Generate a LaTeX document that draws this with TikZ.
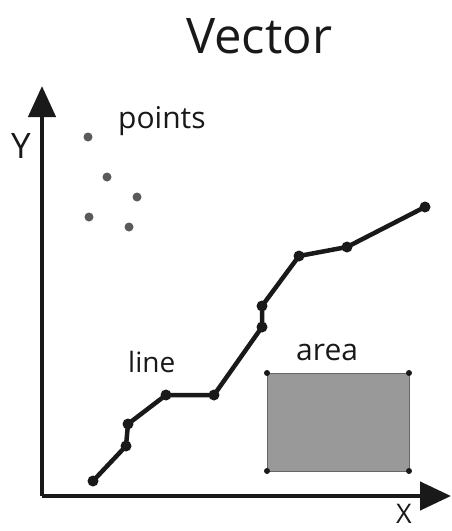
\documentclass[tikz,border=0pt]{standalone}
\usepackage{fontspec}
\setmainfont{Open Sans}
\usetikzlibrary{arrows.meta}
\definecolor{ptgray}{HTML}{5A5A5A}
\definecolor{areagray}{HTML}{999999}
\tikzset{
  lbl/.style={inner sep=0pt, anchor=base west, text=black!90},
  pt/.style={circle, fill=ptgray, inner sep=0pt, minimum size=9pt},
  vtx/.style={circle, fill=black!90, inner sep=0pt, minimum size=11pt},
  corner/.style={circle, fill=black!90, inner sep=0pt, minimum size=6pt},
  axis/.style={line width=4.5pt, black!90, line join=miter},
  poly/.style={line width=4.5pt, black!90, line join=round}
}
\begin{document}
\begin{tikzpicture}[x=1pt,y=-1pt]
\useasboundingbox (0,0) rectangle (452,531);
% title
\node[lbl, font=\fontsize{49}{55}\selectfont] (title) at (186,53) {Vector};
% axes
\coordinate (origin) at (42,496);
\coordinate (ytip) at (42,86);
\coordinate (xtip) at (451,496);
\draw[axis, -{Triangle[length=31pt,width=27pt]}] (origin) -- (ytip);
\draw[axis, -{Triangle[length=31pt,width=28pt]}] (origin) -- (xtip);
\node[lbl, font=\fontsize{35}{40}\selectfont] (ylab) at (11,158) {Y};
\node[lbl, font=\fontsize{27}{31}\selectfont] (xlab) at (396,523) {X};
% points
\node[lbl, font=\fontsize{30}{34}\selectfont] (ptlab) at (118,128) {points};
\node[pt] (p1) at (88,137) {};
\node[pt] (p2) at (107,177) {};
\node[pt] (p3) at (137,197) {};
\node[pt] (p4) at (89,217) {};
\node[pt] (p5) at (129,227) {};
% line
\node[lbl, font=\fontsize{28}{32}\selectfont] (linelab) at (128,372) {line};
\coordinate (l1) at (93,481);
\coordinate (l2) at (126,446);
\coordinate (l3) at (128,424);
\coordinate (l4) at (166,395);
\coordinate (l5) at (214,395);
\coordinate (l6) at (262,327);
\coordinate (l7) at (262,306);
\coordinate (l8) at (299,256);
\coordinate (l9) at (347,247);
\coordinate (l10) at (425,207);
\draw[poly] (l1) -- (l2) -- (l3) -- (l4) -- (l5) -- (l6) -- (l7) -- (l8) -- (l9) -- (l10);
\foreach \i in {1,...,10} \node[vtx] (v\i) at (l\i) {};
% area
\node[lbl, font=\fontsize{30}{34}\selectfont] (arealab) at (296,360) {area};
\coordinate (a1) at (267,373);
\coordinate (a2) at (409,373);
\coordinate (a3) at (409,471);
\coordinate (a4) at (267,471);
\fill[areagray] (a1) rectangle (a3);
\draw[gray!80!black, line width=0.6pt] (a1) -- (a2) -- (a3) -- (a4) -- cycle;
\foreach \i in {1,...,4} \node[corner] (c\i) at (a\i) {};
\end{tikzpicture}
\end{document}
